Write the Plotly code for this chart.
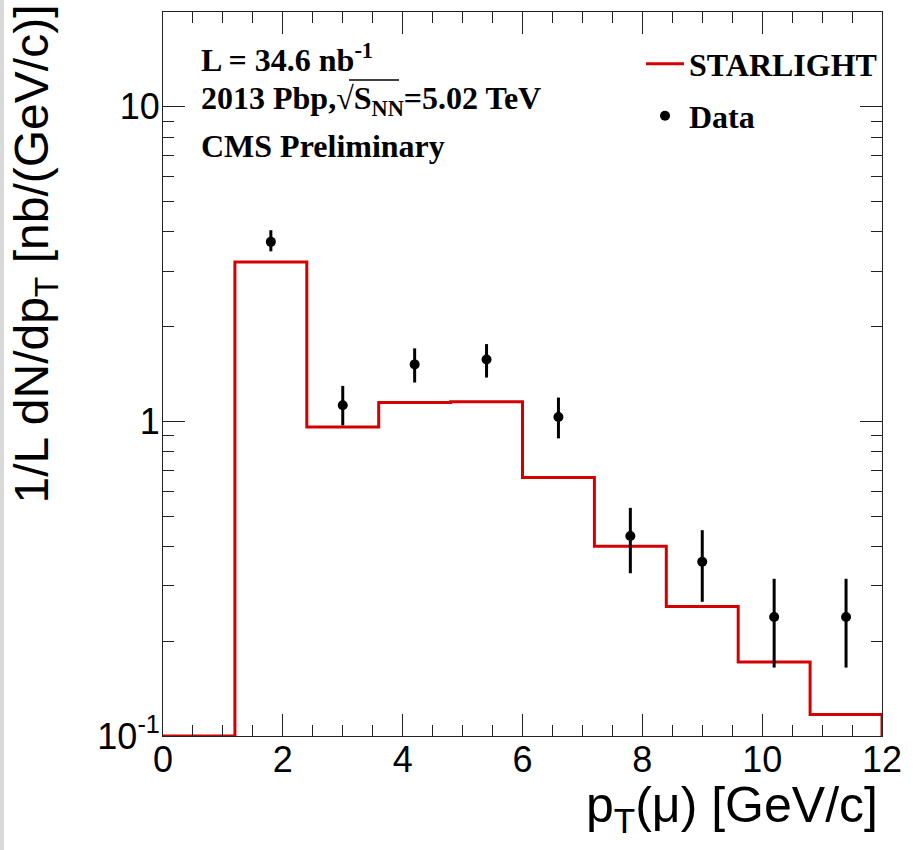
import plotly.graph_objects as go

# ---- data ----
BIN_EDGES = [0.0, 1.2, 2.4, 3.6, 4.8, 6.0, 7.2, 8.4, 9.6, 10.8, 12.0]
STARLIGHT = [0.1, 3.21, 0.96, 1.147, 1.155, 0.663, 0.401, 0.258, 0.172, 0.117]

DATA_X = [1.8, 3.0, 4.2, 5.4, 6.6, 7.8, 9.0, 10.2, 11.4]
DATA_Y = [3.72, 1.125, 1.517, 1.573, 1.032, 0.432, 0.358, 0.239, 0.239]
DATA_ERR_UP = [0.33, 0.171, 0.189, 0.187, 0.158, 0.099, 0.093, 0.077, 0.077]
DATA_ERR_DN = [0.25, 0.154, 0.188, 0.195, 0.149, 0.103, 0.091, 0.074, 0.074]

Y_TICKS = [0.1, 1, 10]
Y_TICKTEXT = ["10<sup>-1</sup>", "1", "10"]
Y_MINOR = [m * 10.0 ** e for e in (-1, 0, 1) for m in range(2, 10) if m * 10.0 ** e <= 20]

W, H = 914, 850
L, R, T, B = 163, 32, 12, 114
PW, PH = W - L - R, H - T - B


def px(x):
    return (x - L) / PW


def py(y):
    return (H - B - y) / PH


hist_x = BIN_EDGES + [BIN_EDGES[-1]]
hist_y = STARLIGHT + [STARLIGHT[-1], Y_TICKS[0]]

RED = "#d40000"
SERIF = "Liberation Serif"
SANS = "Liberation Sans"

fig = go.Figure()
fig.add_trace(go.Scatter(
    x=hist_x, y=hist_y, mode="lines", line=dict(color=RED, width=3, shape="hv"),
    name="<b>STARLIGHT</b>", legend="legend",
))
fig.add_trace(go.Scatter(
    x=DATA_X, y=DATA_Y, mode="markers",
    marker=dict(color="black", size=10, symbol="circle"),
    error_y=dict(type="data", array=DATA_ERR_UP, arrayminus=DATA_ERR_DN,
                 thickness=3, width=0, color="black"),
    name="<b>Data</b>", legend="legend2",
))

axis_common = dict(
    showline=True, linecolor="#222", linewidth=1, mirror="ticks",
    ticks="inside", tickcolor="#222", tickwidth=1, ticklen=22,
    showgrid=False, zeroline=False,
    tickfont=dict(family=SANS, size=36, color="black"),
)

fig.update_layout(
    width=W, height=H,
    margin=dict(l=L, r=R, t=T, b=B, pad=0),
    paper_bgcolor="white", plot_bgcolor="white",
    xaxis=dict(range=[0, 12], tickvals=[0, 2, 4, 6, 8, 10, 12], ticklabelstandoff=-8,
               minor=dict(ticks="inside", dtick=0.5, ticklen=11, tickcolor="#222", tickwidth=1),
               **axis_common),
    yaxis=dict(type="log", range=[-1, 1.301], tickvals=Y_TICKS, ticktext=Y_TICKTEXT,
               ticklabelstandoff=-5,
               minor=dict(ticks="inside", tickmode="array", tickvals=Y_MINOR, ticklen=11,
                          tickcolor="#222", tickwidth=1),
               **axis_common),
    legend=dict(x=px(641), y=py(64), xanchor="left", yanchor="middle",
                font=dict(family=SERIF, size=32, color="black"),
                bgcolor="rgba(0,0,0,0)", itemwidth=38),
    legend2=dict(x=px(641), y=py(116), xanchor="left", yanchor="middle",
                 font=dict(family=SERIF, size=32, color="black"),
                 bgcolor="rgba(0,0,0,0)", itemwidth=38),
    showlegend=True,
)

ann_font = dict(family=SERIF, size=32, color="black")
fig.add_annotation(x=px(199), y=py(58), xref="paper", yref="paper", xanchor="left", yanchor="middle",
                   text="<b>L = 34.6 nb<sup>-1</sup></b>", showarrow=False, font=ann_font)
fig.add_annotation(x=px(199), y=py(100), xref="paper", yref="paper", xanchor="left", yanchor="middle",
                   text="<b>2013 Pbp,\u221aS<sub>NN</sub>=5.02 TeV</b>",
                   showarrow=False, font=ann_font)
fig.add_annotation(x=px(199), y=py(146), xref="paper", yref="paper", xanchor="left", yanchor="middle",
                   text="<b>CMS Preliminary</b>", showarrow=False, font=ann_font)

# overline of the square root
fig.add_shape(type="line", xref="paper", yref="paper", x0=px(349), x1=px(399), y0=py(80), y1=py(80),
              line=dict(color="black", width=1.5))

# axis titles
fig.add_annotation(x=px(880), y=py(775), xref="paper", yref="paper", xanchor="right", yanchor="top",
                   text="p<sub>T</sub>(\u03bc) [GeV/c]", showarrow=False,
                   font=dict(family=SANS, size=50, color="black"))
fig.add_annotation(x=px(35), y=py(3), xref="paper", yref="paper", xanchor="center", yanchor="top",
                   text="1/L dN/dp<sub>T</sub> [nb/(GeV/c)]", showarrow=False, textangle=-90,
                   font=dict(family=SANS, size=48, color="black"))

# left gray strip of the canvas
fig.add_shape(type="rect", xref="paper", yref="paper", x0=px(0), x1=px(4), y0=py(H), y1=py(0),
              fillcolor="#d9d9d9", line=dict(width=0), layer="below")

fig.write_html("out.html")
